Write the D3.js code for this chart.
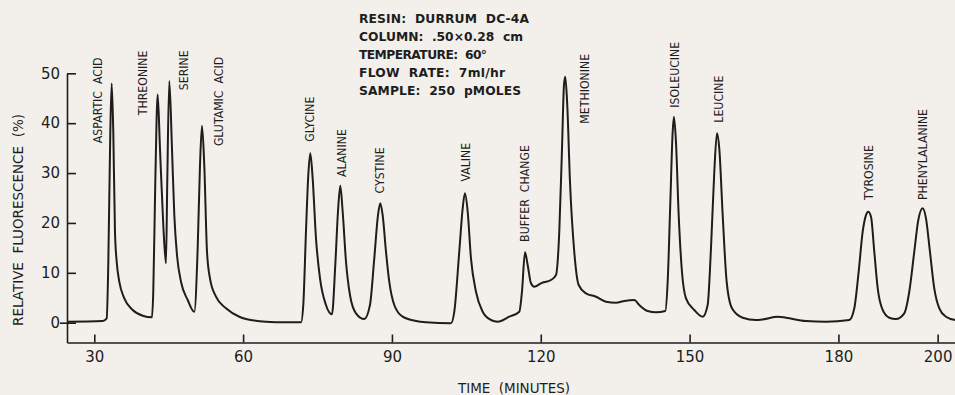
<!DOCTYPE html>
<html>
<head>
<meta charset="utf-8">
<script src="https://cdn.jsdelivr.net/npm/d3@7"></script>
<style>
  html, body { margin: 0; padding: 0; background: #f3f0eb; }
  svg { display: block; }
</style>
</head>
<body>
<svg id="chart" width="955" height="395"></svg>
<script>
// Elution time (minutes) and relative fluorescence (%) of the chromatogram trace
const times = [24.5, 31.69, 32.50, 32.82, 33.23, 33.51, 33.83, 34.17, 34.52, 35.04, 36.05, 37.74, 39.76, 41.63,
  41.89, 42.30, 42.78, 43.24, 43.91, 44.45, 44.71, 45.12, 45.66, 46.13, 46.67, 47.48, 48.83, 50.16,
  50.84, 51.31, 51.71, 52.17, 52.72, 53.32, 54.53, 56.55, 59.23, 60.58, 64.61, 68.64, 71.67,
  72.13, 72.67, 73.14, 73.54, 74.02, 74.69, 75.50, 76.70, 77.91, 78.58, 79.12, 79.59, 80.07, 80.74,
  81.54, 82.75, 84.42, 85.57, 86.44, 87.19, 87.65, 88.13, 88.80, 89.46, 90.47, 92.16, 94.85, 96.86,
  101.90, 102.57, 103.57, 104.26, 104.72, 105.27, 105.93, 106.94, 108.29, 109.96, 111.31, 113.65,
  115.67, 116.21, 116.82, 117.36, 118.03, 118.69, 120.04, 122.06, 123.07, 123.73, 124.28, 124.68,
  124.94, 125.34, 125.89, 126.75, 127.64, 129.11, 131.13, 133.14, 135.16, 136.83, 138.85, 139.86,
  141.55, 143.22, 145.10, 145.58, 146.10, 146.59, 146.85, 147.25, 147.80, 148.46, 149.27, 150.94,
  152.64, 153.64, 154.31, 154.98, 155.52, 155.98, 156.67, 157.47, 158.54, 160.70, 163.38, 164.59,
  167.82, 169.43, 173.46, 177.49, 182.19, 183.20, 184.08, 184.89, 185.56, 186.02, 186.57, 187.23,
  187.92, 188.92, 190.25, 191.60, 193.27, 194.28, 195.29, 196.10, 196.98, 197.65, 198.45, 199.32,
  200.33, 201.68, 203.5];
const fluorescence = [0.2, 0.34, 0.88, 11.56, 38.28, 47.98, 38.28, 18.24, 12.22, 8.22, 4.89, 2.55, 1.40, 1.08,
  6.21, 28.26, 45.77, 34.95, 19.58, 11.90, 28.26, 48.44, 34.95, 21.58, 13.57, 8.22, 4.55, 2.20,
  14.91, 31.60, 39.48, 31.60, 14.23, 8.90, 5.21, 2.89, 1.20, 0.74, 0.2, 0.08, 0.08,
  3.55, 18.24, 29.60, 33.95, 28.94, 16.91, 8.90, 3.55, 1.68, 11.56, 22.24, 27.45, 22.24, 12.22,
  5.55, 1.88, 0.74, 3.55, 12.91, 21.58, 23.93, 21.58, 14.23, 8.22, 3.55, 1.20, 0.34, 0.08,
  -0.12, 2.20, 14.23, 22.93, 25.93, 22.24, 12.91, 6.21, 2.20, 0.54, 0.2, 1.20,
  2.20, 6.21, 14.11, 11.56, 7.90, 7.21, 7.90, 8.56, 9.56, 18.24, 34.95, 47.64,
  49.30, 43.63, 28.26, 14.23, 7.56, 5.89, 5.21, 4.21, 4.01, 4.35, 4.55, 3.55,
  2.34, 2.08, 2.34, 8.22, 23.59, 38.28, 41.28, 36.27, 21.58, 10.22, 4.89, 2.55,
  1.20, 3.55, 14.91, 30.26, 37.96, 34.95, 21.58, 8.22, 2.89, 1.00, 0.54, 0.64,
  1.20, 1.00, 0.34, 0.2, 0.54, 2.89, 10.22, 18.24, 21.58, 22.24, 21.24, 14.23,
  6.89, 2.55, 1.00, 0.74, 1.88, 6.21, 14.23, 20.58, 22.93, 20.92, 14.23, 6.89,
  2.89, 1.20, 0.54];

// Peak annotations: name, elution time and the fluorescence level where the label starts
const peakNames = ["ASPARTIC  ACID", "THREONINE", "SERINE", "GLUTAMIC  ACID", "GLYCINE", "ALANINE", "CYSTINE",
  "VALINE", "BUFFER  CHANGE", "METHIONINE", "ISOLEUCINE", "LEUCINE", "TYROSINE", "PHENYLALANINE"];
const peakLabelTimes = [30.6, 39.76, 47.94, 55.0, 73.48, 79.87, 87.45, 104.93, 116.82, 128.77, 146.95, 155.78, 186.02, 196.98];
const peakLabelLevels = [36.0, 41.6, 46.6, 35.4, 36.3, 29.2, 25.9, 28.3, 16.2, 39.9, 43.1, 40.1, 24.6, 24.6];

const xTicks = [30, 60, 90, 120, 150, 180, 200];
const yTicks = [0, 10, 20, 30, 40, 50];

const conditions = [
  "RESIN:  DURRUM  DC-4A",
  "COLUMN:  .50×0.28  cm",
  "TEMPERATURE:  60°",
  "FLOW  RATE:  7ml/hr",
  "SAMPLE:  250  pMOLES"
];
const xTitle = "TIME  (MINUTES)";
const yTitle = "RELATIVE  FLUORESCENCE  (%)";

// set widths of the condition lines (px)
const conditionWidths = [170, 164, 128, 146, 162];

const ink = "#1d1d1d";
const svg = d3.select("#chart");

const x = d3.scaleLinear().domain([24.5, 203.6]).range([67, 955.5]);
const y = d3.scaleLinear().domain([-3.97, 50]).range([342.5, 73.3]);

// Axes
const xAxis = svg.append("g")
  .attr("transform", `translate(0,${y.range()[0]})`)
  .call(d3.axisBottom(x).tickValues(xTicks).tickFormat(d3.format("d"))
    .tickSize(-8).tickSizeOuter(0).tickPadding(9));
const yAxis = svg.append("g")
  .attr("transform", `translate(${x.range()[0]},0)`)
  .call(d3.axisLeft(y).tickValues(yTicks).tickFormat(d3.format("d"))
    .tickSize(-9).tickSizeOuter(0).tickPadding(7));

[xAxis, yAxis].forEach(g => {
  g.select(".domain").attr("stroke", ink).attr("stroke-width", 1.6);
  g.selectAll(".tick line").attr("stroke", ink).attr("stroke-width", 1.6);
  g.selectAll(".tick text")
    .attr("fill", ink)
    .style("font-family", "'DejaVu Sans', sans-serif")
    .style("font-size", "15px");
});
// the zero tick crosses the axis
yAxis.selectAll(".tick").filter(d => d === 0)
  .append("line").attr("x1", -7).attr("x2", 0)
  .attr("stroke", ink).attr("stroke-width", 1.6);

// Axis titles
svg.append("text")
  .attr("x", 514).attr("y", 393)
  .attr("text-anchor", "middle")
  .attr("fill", ink)
  .attr("textLength", 112)
  .attr("lengthAdjust", "spacingAndGlyphs")
  .style("font-family", "'DejaVu Sans', sans-serif")
  .style("font-size", "13.5px")
  .style("white-space", "pre")
  .text(xTitle);
svg.append("text")
  .attr("transform", `translate(23,220) rotate(-90)`)
  .attr("text-anchor", "middle")
  .attr("fill", ink)
  .attr("textLength", 212)
  .attr("lengthAdjust", "spacingAndGlyphs")
  .style("font-family", "'DejaVu Sans', sans-serif")
  .style("font-size", "13.5px")
  .style("white-space", "pre")
  .text(yTitle);

// Trace
const points = times.map((t, i) => [t, fluorescence[i]]);
svg.append("path")
  .datum(points)
  .attr("fill", "none")
  .attr("stroke", ink)
  .attr("stroke-width", 2)
  .attr("stroke-linejoin", "round")
  .attr("d", d3.line().x(d => x(d[0])).y(d => y(d[1])).curve(d3.curveMonotoneX));

// Peak labels, written upward
svg.append("g").selectAll("text")
  .data(peakNames)
  .join("text")
  .attr("transform", (d, i) => `translate(${x(peakLabelTimes[i])},${y(peakLabelLevels[i])}) rotate(-90)`)
  .attr("dy", "0.36em")
  .attr("fill", ink)
  .style("font-family", "'DejaVu Sans Condensed', 'DejaVu Sans', sans-serif")
  .style("font-stretch", "condensed")
  .style("font-size", "12.2px")
  .style("white-space", "pre")
  .text(d => d);

// Run conditions block
svg.append("g").selectAll("text")
  .data(conditions)
  .join("text")
  .attr("x", 359)
  .attr("y", (d, i) => 22.6 + i * 18)
  .attr("fill", ink)
  .attr("textLength", (d, i) => conditionWidths[i])
  .attr("lengthAdjust", "spacing")
  .style("font-family", "'DejaVu Sans', sans-serif")
  .style("font-weight", "bold")
  .style("font-size", "12.3px")
  .style("white-space", "pre")
  .text(d => d);
</script>
</body>
</html>
